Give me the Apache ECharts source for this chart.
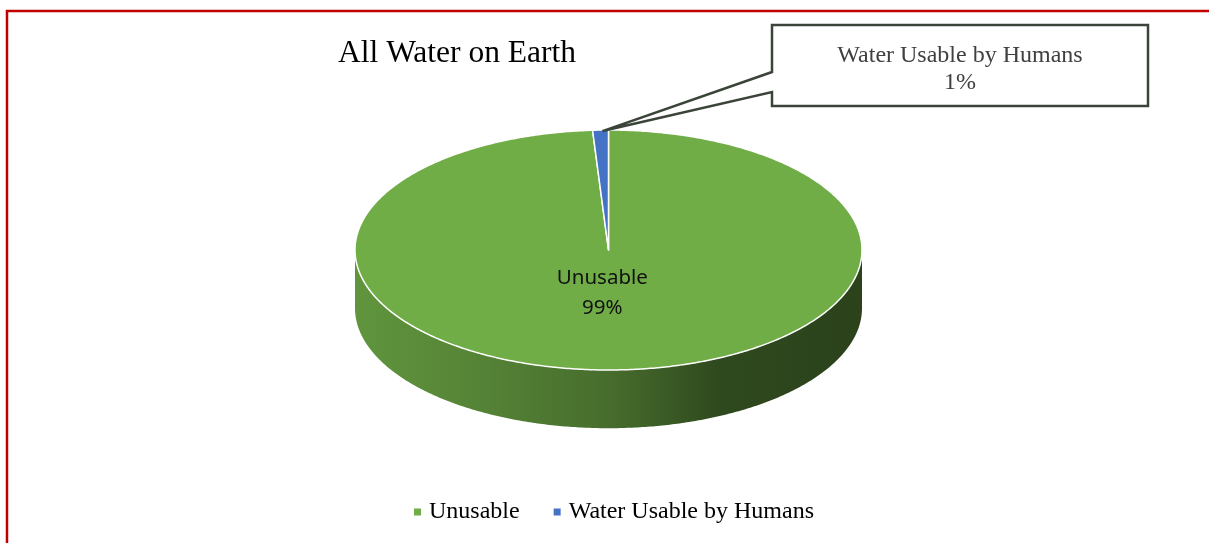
<!DOCTYPE html>
<html><head><meta charset="utf-8">
<script src="https://cdn.jsdelivr.net/npm/echarts@6/dist/echarts.min.js"></script>
<style>html,body{margin:0;padding:0;background:#fff}#c{width:1209px;height:543px}</style>
</head><body><div id="c"></div>
<script>
// ---- data ----
const titleText = 'All Water on Earth';
const categories = ['Unusable', 'Water Usable by Humans'];
const values = [99, 1];

// ---- styles ----
const colors = ['#70ad47', '#4472c4'];
const SERIF = '"Liberation Serif", "Times New Roman", serif';
const SANS = '"Noto Sans", "Open Sans", sans-serif';

const total = values.reduce((a, b) => a + b, 0);
const starts = [];
{ let acc = 0; values.forEach(v => { starts.push(acc); acc += v; }); }
const TAU = Math.PI * 2;
const DEPTH = 0.485;          // wall height in y-axis units
const CALLOUT = { x0: 772, y0: 25, x1: 1148, y1: 106, a: 72, b: 92 };

function shade(hex, f) {
  const n = parseInt(hex.slice(1), 16);
  const r = Math.round(((n >> 16) & 255) * f), g = Math.round(((n >> 8) & 255) * f), b = Math.round((n & 255) * f);
  return 'rgb(' + r + ',' + g + ',' + b + ')';
}
function pt(api, ang, r, dy) { return api.coord([Math.sin(ang) * r, Math.cos(ang) * r - (dy || 0)]); }
function arcPts(api, a0, a1, r, dy) {
  const n = Math.max(2, Math.ceil(Math.abs(a1 - a0) / 0.01));
  const out = [];
  for (let k = 0; k <= n; k++) out.push(pt(api, a0 + (a1 - a0) * k / n, r, dy));
  return out;
}

function makeRender(i) {
  return function (params, api) {
    const v = api.value(2);
    const a0 = starts[i] / total * TAU, a1 = (starts[i] + v) / total * TAU;
    const children = [];
    const s0 = Math.max(a0, Math.PI / 2), s1 = Math.min(a1, 3 * Math.PI / 2);
    if (s1 > s0) {
      const top = arcPts(api, s0, s1, 1, 0);
      const bot = arcPts(api, s1, s0, 1, DEPTH);
      children.push({
        type: 'polygon', shape: { points: top.concat(bot) },
        style: {
          fill: new echarts.graphic.LinearGradient(0, 0, 1, 0, [
            { offset: 0, color: shade(colors[i], 0.86) },
            { offset: 0.25, color: shade(colors[i], 0.76) },
            { offset: 0.5, color: shade(colors[i], 0.63) },
            { offset: 0.72, color: shade(colors[i], 0.42) },
            { offset: 1, color: shade(colors[i], 0.38) }
          ]),
          stroke: null
        }
      });
    }
    const c = api.coord([0, 0]);
    children.push({
      type: 'polygon', shape: { points: [c].concat(arcPts(api, a0, a1, 1, 0)) },
      style: { fill: colors[i], stroke: '#ffffff', lineWidth: 1.5, lineJoin: 'round' }
    });
    const mid = (a0 + a1) / 2;
    const pct = Math.round(v / total * 100) + '%';
    if (v / total >= 0.05) {
      const p = pt(api, mid, 0.35, 0);
      children.push({
        type: 'text', x: p[0] - 9, y: p[1] + 1,
        style: { text: categories[i] + '\n' + pct, fill: '#111', fontFamily: SANS, fontSize: 20.5, lineHeight: 30, align: 'center', verticalAlign: 'middle' }
      });
    } else {
      const tip = pt(api, mid, 1, 0);
      const C = CALLOUT;
      children.push({
        type: 'polygon',
        shape: { points: [[C.x0, C.y0], [C.x1, C.y0], [C.x1, C.y1], [C.x0, C.y1], [C.x0, C.b], [tip[0] + 2, tip[1] + 1], [C.x0, C.a]] },
        style: { fill: '#ffffff', stroke: '#3b4438', lineWidth: 2.5, lineJoin: 'miter' }
      });
      children.push({
        type: 'text', x: (C.x0 + C.x1) / 2, y: (C.y0 + C.y1) / 2 + 4,
        style: { text: categories[i] + '\n' + pct, fill: '#404040', fontFamily: SERIF, fontSize: 24, lineHeight: 27, align: 'center', verticalAlign: 'middle' }
      });
    }
    return { type: 'group', children: children };
  };
}

const chart = echarts.init(document.getElementById('c'), null, { renderer: 'canvas' });
chart.setOption({
  animation: false,
  color: colors,
  title: {
    text: titleText, left: 338, top: 38, padding: 0,
    textStyle: { fontFamily: SERIF, fontSize: 31.5, fontWeight: 'normal', color: '#000' }
  },
  legend: {
    data: categories, left: 414, top: 500, padding: 0, icon: 'rect', itemWidth: 7, itemHeight: 7, itemGap: 34,
    textStyle: { fontFamily: SERIF, fontSize: 24, color: '#000', padding: [0, 0, 0, 3] }
  },
  grid: { left: 355, top: 130, width: 507, height: 240 },
  xAxis: { type: 'value', min: -1, max: 1, show: false },
  yAxis: { type: 'value', min: -1, max: 1, show: false },
  graphic: [{
    type: 'polyline', silent: true,
    shape: { points: [[7, 543], [7, 11], [1209, 11]] },
    style: { stroke: '#c00000', lineWidth: 2.5, fill: null }
  }],
  series: categories.map((name, i) => ({
    type: 'custom', name: name, coordinateSystem: 'cartesian2d', clip: false,
    z: 2 + i,
    renderItem: makeRender(i),
    data: [[0, 0, values[i]]]
  }))
});
</script></body></html>
